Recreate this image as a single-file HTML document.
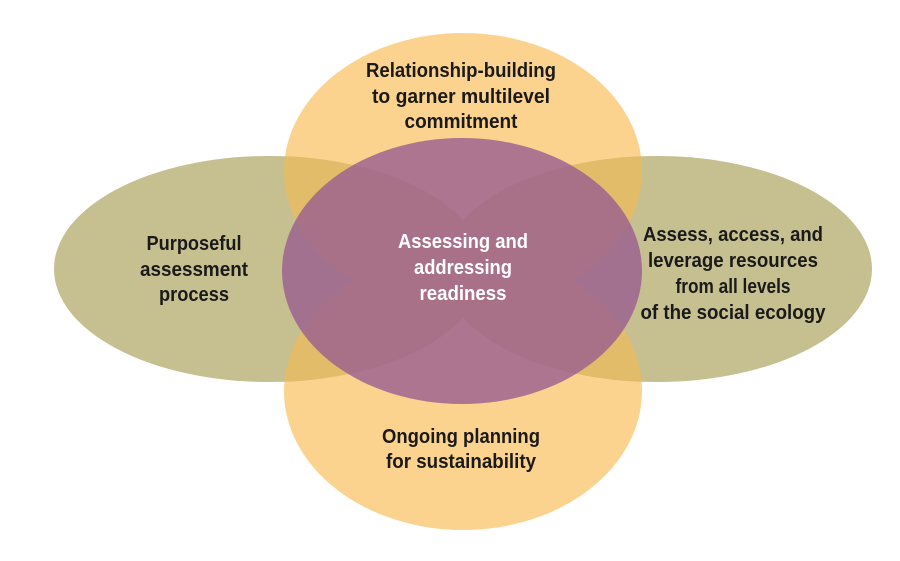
<!DOCTYPE html>
<html><head><style>
html,body{margin:0;padding:0;background:#fff;}
svg text{font-family:"Liberation Sans",sans-serif;font-weight:bold;font-size:20px;text-anchor:middle;}
</style></head><body>
<svg width="900" height="556" viewBox="0 0 900 556" xmlns="http://www.w3.org/2000/svg">
<defs>
<clipPath id="ct"><ellipse cx="463" cy="171" rx="179" ry="138"/></clipPath>
<clipPath id="cb"><ellipse cx="463" cy="391" rx="179" ry="139"/></clipPath>
</defs>
<rect width="900" height="556" fill="#fff"/>
<ellipse cx="463" cy="171" rx="179" ry="138" fill="#FBD38E"/>
<ellipse cx="463" cy="391" rx="179" ry="139" fill="#FBD38E"/>
<ellipse cx="269" cy="269" rx="215" ry="113" fill="#C6BF90"/>
<ellipse cx="657" cy="269" rx="215" ry="113" fill="#C6BF90"/>
<g clip-path="url(#ct)">
<ellipse cx="269" cy="269" rx="215" ry="113" fill="#E3BC6A"/>
<ellipse cx="657" cy="269" rx="215" ry="113" fill="#E3BC6A"/>
</g>
<g clip-path="url(#cb)">
<ellipse cx="269" cy="269" rx="215" ry="113" fill="#E3BC6A"/>
<ellipse cx="657" cy="269" rx="215" ry="113" fill="#E3BC6A"/>
</g>
<ellipse cx="462" cy="271" rx="180" ry="133" fill="#9A5E90" fill-opacity="0.8"/>
<g fill="#1a1a1a">
<text x="461" y="77" textLength="190" lengthAdjust="spacingAndGlyphs">Relationship-building</text>
<text x="461" y="103" textLength="178" lengthAdjust="spacingAndGlyphs">to garner multilevel</text>
<text x="461" y="128" textLength="113" lengthAdjust="spacingAndGlyphs">commitment</text>
<text x="194" y="250" textLength="95" lengthAdjust="spacingAndGlyphs">Purposeful</text>
<text x="194" y="276" textLength="108" lengthAdjust="spacingAndGlyphs">assessment</text>
<text x="194" y="301" textLength="70" lengthAdjust="spacingAndGlyphs">process</text>
<text x="733" y="241" textLength="180" lengthAdjust="spacingAndGlyphs">Assess, access, and</text>
<text x="733" y="267" textLength="170" lengthAdjust="spacingAndGlyphs">leverage resources</text>
<text x="733" y="293" textLength="115" lengthAdjust="spacingAndGlyphs">from all levels</text>
<text x="733" y="319" textLength="185" lengthAdjust="spacingAndGlyphs">of the social ecology</text>
<text x="461" y="443" textLength="158" lengthAdjust="spacingAndGlyphs">Ongoing planning</text>
<text x="461" y="468" textLength="150" lengthAdjust="spacingAndGlyphs">for sustainability</text>
</g>
<g fill="#fff">
<text x="463" y="248" textLength="130" lengthAdjust="spacingAndGlyphs">Assessing and</text>
<text x="463" y="274" textLength="98" lengthAdjust="spacingAndGlyphs">addressing</text>
<text x="463" y="300" textLength="87" lengthAdjust="spacingAndGlyphs">readiness</text>
</g>
</svg>
</body></html>
